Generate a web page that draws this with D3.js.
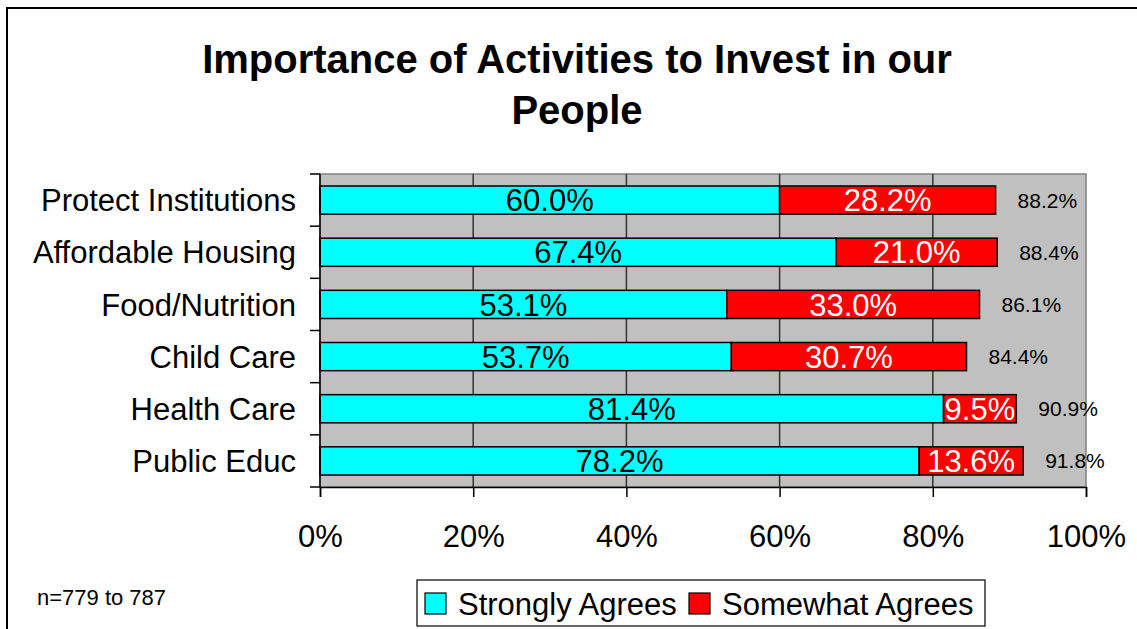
<!DOCTYPE html>
<meta charset="utf-8" />
<style>
  body { margin: 0; background: #fff; }
  svg text { font-family: "Liberation Sans", Arial, sans-serif; }
</style>
<svg width="1137" height="629"></svg>
<script src="https://cdn.jsdelivr.net/npm/d3@7"></script>
<script>
  var categories = ["Protect Institutions", "Affordable Housing", "Food/Nutrition", "Child Care", "Health Care", "Public Educ"];
  var strongly = [60.0, 67.4, 53.1, 53.7, 81.4, 78.2];
  var somewhat = [28.2, 21.0, 33.0, 30.7, 9.5, 13.6];
  var totals = [88.2, 88.4, 86.1, 84.4, 90.9, 91.8];
  var xTicks = [0, 20, 40, 60, 80, 100];
  var seriesNames = ["Strongly Agrees", "Somewhat Agrees"];
  var seriesColors = ["#00ffff", "#ff0000"];

  var svg = d3.select("svg");

  // outer chart frame (runs off the right and bottom of the picture)
  svg.append("rect")
    .attr("x", 7).attr("y", 8)
    .attr("width", 1300).attr("height", 800)
    .attr("fill", "none").attr("stroke", "#000").attr("stroke-width", 2);

  svg.append("text")
    .attr("x", 577).attr("y", 73)
    .attr("text-anchor", "middle")
    .style("font-size", "40px").style("font-weight", "bold")
    .text("Importance of Activities to Invest in our");
  svg.append("text")
    .attr("x", 577).attr("y", 124)
    .attr("text-anchor", "middle")
    .style("font-size", "40px").style("font-weight", "bold")
    .text("People");

  var plotL = 320, plotR = 1086, plotT = 174, plotB = 487;

  var x = d3.scaleLinear().domain([0, 100]).range([plotL, plotR]);
  var y = d3.scaleBand().domain(categories).range([plotT, plotB])
    .paddingInner(0.46).paddingOuter(0.23);

  // plot area
  svg.append("rect")
    .attr("x", plotL).attr("y", plotT)
    .attr("width", plotR - plotL).attr("height", plotB - plotT)
    .attr("fill", "#c0c0c0").attr("stroke", "#808080").attr("stroke-width", 1.5);

  // gridlines
  svg.append("g").selectAll("line")
    .data(xTicks.slice(1, -1))
    .join("line")
    .attr("x1", function(d) { return x(d); }).attr("x2", function(d) { return x(d); })
    .attr("y1", plotT).attr("y2", plotB)
    .attr("stroke", "#333").attr("stroke-width", 1.5);

  // stacked bars
  var rows = categories.map(function(c, i) {
    return { cat: c, a: strongly[i], b: somewhat[i], t: totals[i] };
  });

  var g = svg.append("g");
  g.selectAll(".barA").data(rows).join("rect")
    .attr("class", "barA")
    .attr("x", x(0))
    .attr("y", function(d) { return y(d.cat); })
    .attr("width", function(d) { return x(d.a) - x(0); })
    .attr("height", y.bandwidth())
    .attr("fill", seriesColors[0]).attr("stroke", "#000").attr("stroke-width", 1.5);
  g.selectAll(".barB").data(rows).join("rect")
    .attr("class", "barB")
    .attr("x", function(d) { return x(d.a); })
    .attr("y", function(d) { return y(d.cat); })
    .attr("width", function(d) { return x(d.a + d.b) - x(d.a); })
    .attr("height", y.bandwidth())
    .attr("fill", seriesColors[1]).attr("stroke", "#000").attr("stroke-width", 1.5);

  g.selectAll(".labA").data(rows).join("text")
    .attr("class", "labA")
    .attr("x", function(d) { return (x(0) + x(d.a)) / 2; })
    .attr("y", function(d) { return y(d.cat) + y.bandwidth() / 2; })
    .attr("dy", "0.36em").attr("text-anchor", "middle")
    .style("font-size", "31px").attr("fill", "#000")
    .text(function(d) { return d.a.toFixed(1) + "%"; });
  g.selectAll(".labB").data(rows).join("text")
    .attr("class", "labB")
    .attr("x", function(d) { return (x(d.a) + x(d.a + d.b)) / 2; })
    .attr("y", function(d) { return y(d.cat) + y.bandwidth() / 2; })
    .attr("dy", "0.36em").attr("text-anchor", "middle")
    .style("font-size", "31px").attr("fill", "#fff")
    .text(function(d) { return d.b.toFixed(1) + "%"; });
  g.selectAll(".labT").data(rows).join("text")
    .attr("class", "labT")
    .attr("x", function(d) { return x(d.t) + 22; })
    .attr("y", function(d) { return y(d.cat) + y.bandwidth() / 2; })
    .attr("dy", "0.36em")
    .style("font-size", "21px").attr("fill", "#000")
    .text(function(d) { return d.t.toFixed(1) + "%"; });

  // axes
  var xAxis = d3.axisBottom(x).tickValues(xTicks)
    .tickFormat(function(d) { return d + "%"; })
    .tickSize(10).tickPadding(28);
  var ax = svg.append("g").attr("transform", "translate(0," + plotB + ")").call(xAxis);
  ax.select(".domain").attr("stroke", "#000").attr("stroke-width", 1.5);
  ax.selectAll(".tick line").attr("stroke", "#000").attr("stroke-width", 1.5);
  ax.selectAll("text").style("font-size", "31px").attr("fill", "#000")
    .style("font-family", "'Liberation Sans', Arial, sans-serif");

  var bounds = categories.map(function(c) { return y(c) - y.step() * y.paddingInner() / 2; });
  bounds.push(plotB);
  svg.append("g").selectAll("line").data(bounds).join("line")
    .attr("x1", plotL - 10).attr("x2", plotL)
    .attr("y1", function(d) { return d; }).attr("y2", function(d) { return d; })
    .attr("stroke", "#000").attr("stroke-width", 1.5);
  svg.append("line")
    .attr("x1", plotL).attr("x2", plotL).attr("y1", plotT).attr("y2", plotB)
    .attr("stroke", "#000").attr("stroke-width", 1.5);

  svg.append("g").selectAll("text").data(categories).join("text")
    .attr("x", 296)
    .attr("y", function(d) { return y(d) + y.bandwidth() / 2; })
    .attr("dy", "0.36em").attr("text-anchor", "end")
    .style("font-size", "31px")
    .text(function(d) { return d; });

  svg.append("text")
    .attr("x", 37).attr("y", 605)
    .style("font-size", "22px")
    .text("n=779 to 787");

  // legend
  var lg = svg.append("g");
  lg.append("rect")
    .attr("x", 417).attr("y", 580).attr("width", 568).attr("height", 46)
    .attr("fill", "#fff").attr("stroke", "#000").attr("stroke-width", 1.2);
  var items = [{ name: seriesNames[0], color: seriesColors[0], x: 425 },
               { name: seriesNames[1], color: seriesColors[1], x: 689 }];
  lg.selectAll(".sw").data(items).join("rect")
    .attr("class", "sw")
    .attr("x", function(d) { return d.x; }).attr("y", 593)
    .attr("width", 21).attr("height", 21)
    .attr("fill", function(d) { return d.color; })
    .attr("stroke", "#000").attr("stroke-width", 1.2);
  lg.selectAll(".lt").data(items).join("text")
    .attr("class", "lt")
    .attr("x", function(d) { return d.x + 33; }).attr("y", 615)
    .style("font-size", "31px")
    .text(function(d) { return d.name; });
</script>
